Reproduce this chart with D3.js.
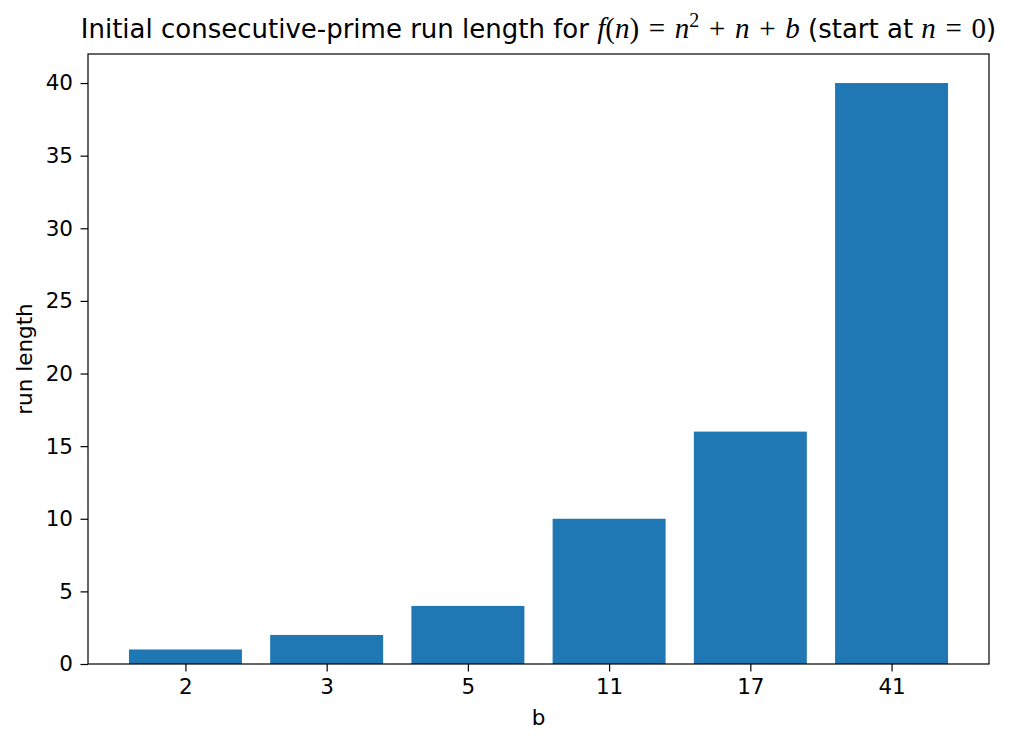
<!DOCTYPE html>
<html lang="en">
<head>
<meta charset="UTF-8">
<title>run length</title>
<script src="https://d3js.org/d3.v7.min.js"></script>
<style>
  body { margin: 0; background: #fff; }
  text { font-family: "DejaVu Sans", sans-serif; fill: #000; }
</style>
</head>
<body>
<script>
    // data
    var categories = ['2', '3', '5', '11', '17', '41'];
    var runLengths = [1, 2, 4, 10, 16, 40];
    var yTicks = [0, 5, 10, 15, 20, 25, 30, 35, 40];

    var width = 1014, height = 745;
    var margin = {top: 54, right: 25, bottom: 81, left: 88};
    var plotW = width - margin.left - margin.right;
    var plotH = height - margin.top - margin.bottom;
    var tickFont = '21.5px';

    var svg = d3.select('body').append('svg')
        .attr('width', width).attr('height', height);

    // matplotlib-like: bar width 0.8, 5% margin of data span
    var n = categories.length;
    var span = n - 1 + 0.8;
    var x = d3.scaleLinear().domain([-0.4 - 0.05 * span, n - 0.6 + 0.05 * span]).range([0, plotW]);
    var y = d3.scaleLinear().domain([0, 42]).range([plotH, 0]);

    var g = svg.append('g').attr('transform', 'translate(' + margin.left + ',' + margin.top + ')');

    // bars
    g.selectAll('rect.bar').data(runLengths).enter().append('rect')
        .attr('class', 'bar')
        .attr('fill', '#1f77b4')
        .attr('x', (d, i) => x(i - 0.4))
        .attr('width', (d, i) => x(i + 0.4) - x(i - 0.4))
        .attr('y', d => y(d))
        .attr('height', d => y(0) - y(d));

    // axes
    var xAxis = d3.axisBottom(x).tickValues(d3.range(n))
        .tickFormat(i => categories[i]).tickSize(7.5).tickPadding(7);
    var yAxis = d3.axisLeft(y).tickValues(yTicks).tickSize(7.5).tickPadding(7.5);

    var gx = g.append('g').attr('transform', 'translate(0,' + plotH + ')').call(xAxis);
    var gy = g.append('g').call(yAxis);
    [gx, gy].forEach(a => {
        a.select('.domain').remove();
        a.selectAll('line').attr('stroke', '#000').attr('stroke-width', 1.2);
        a.selectAll('text').attr('font-size', tickFont).attr('font-family', '"DejaVu Sans", sans-serif').attr('fill', '#000');
    });

    // frame
    g.append('rect').attr('width', plotW).attr('height', plotH)
        .attr('fill', 'none').attr('stroke', '#000').attr('stroke-width', 1.2);

    // labels
    svg.append('text').attr('x', margin.left + plotW / 2).attr('y', 725)
        .attr('text-anchor', 'middle').attr('font-size', tickFont).text('b');
    svg.append('text')
        .attr('transform', 'translate(32,' + (margin.top + plotH / 2) + ') rotate(-90)')
        .attr('text-anchor', 'middle').attr('font-size', tickFont).text('run length');

    // title with math
    var title = svg.append('text').attr('x', margin.left + plotW / 2).attr('y', 38)
        .attr('text-anchor', 'middle').attr('font-size', '26px');
    var mathFont = '"Liberation Serif", "DejaVu Serif", serif';
    var op = s => '\u200a ' + s + ' \u200a';
    var parts = [
        {t: 'Initial consecutive-prime run length for '},
        {t: 'f', m: 1, i: 1},
        {t: '(', m: 1},
        {t: 'n', m: 1, i: 1},
        {t: ')' + op('='), m: 1},
        {t: 'n', m: 1, i: 1},
        {t: '2', m: 1, sup: 1},
        {t: op('+'), m: 1},
        {t: 'n', m: 1, i: 1},
        {t: op('+'), m: 1},
        {t: 'b', m: 1, i: 1},
        {t: ' (start at '},
        {t: 'n', m: 1, i: 1},
        {t: op('='), m: 1},
        {t: '0', m: 1},
        {t: ')'}
    ];
    var prevSup = false;
    parts.forEach(p => {
        var ts = title.append('tspan').text(p.t);
        if (p.m) ts.attr('font-family', mathFont).attr('font-size', '29px');
        if (p.i) ts.attr('font-style', 'italic');
        if (p.sup) { ts.attr('dy', -11).attr('font-size', '20px'); prevSup = true; }
        else if (prevSup) { ts.attr('dy', 11); prevSup = false; }
    });
</script>
</body>
</html>
